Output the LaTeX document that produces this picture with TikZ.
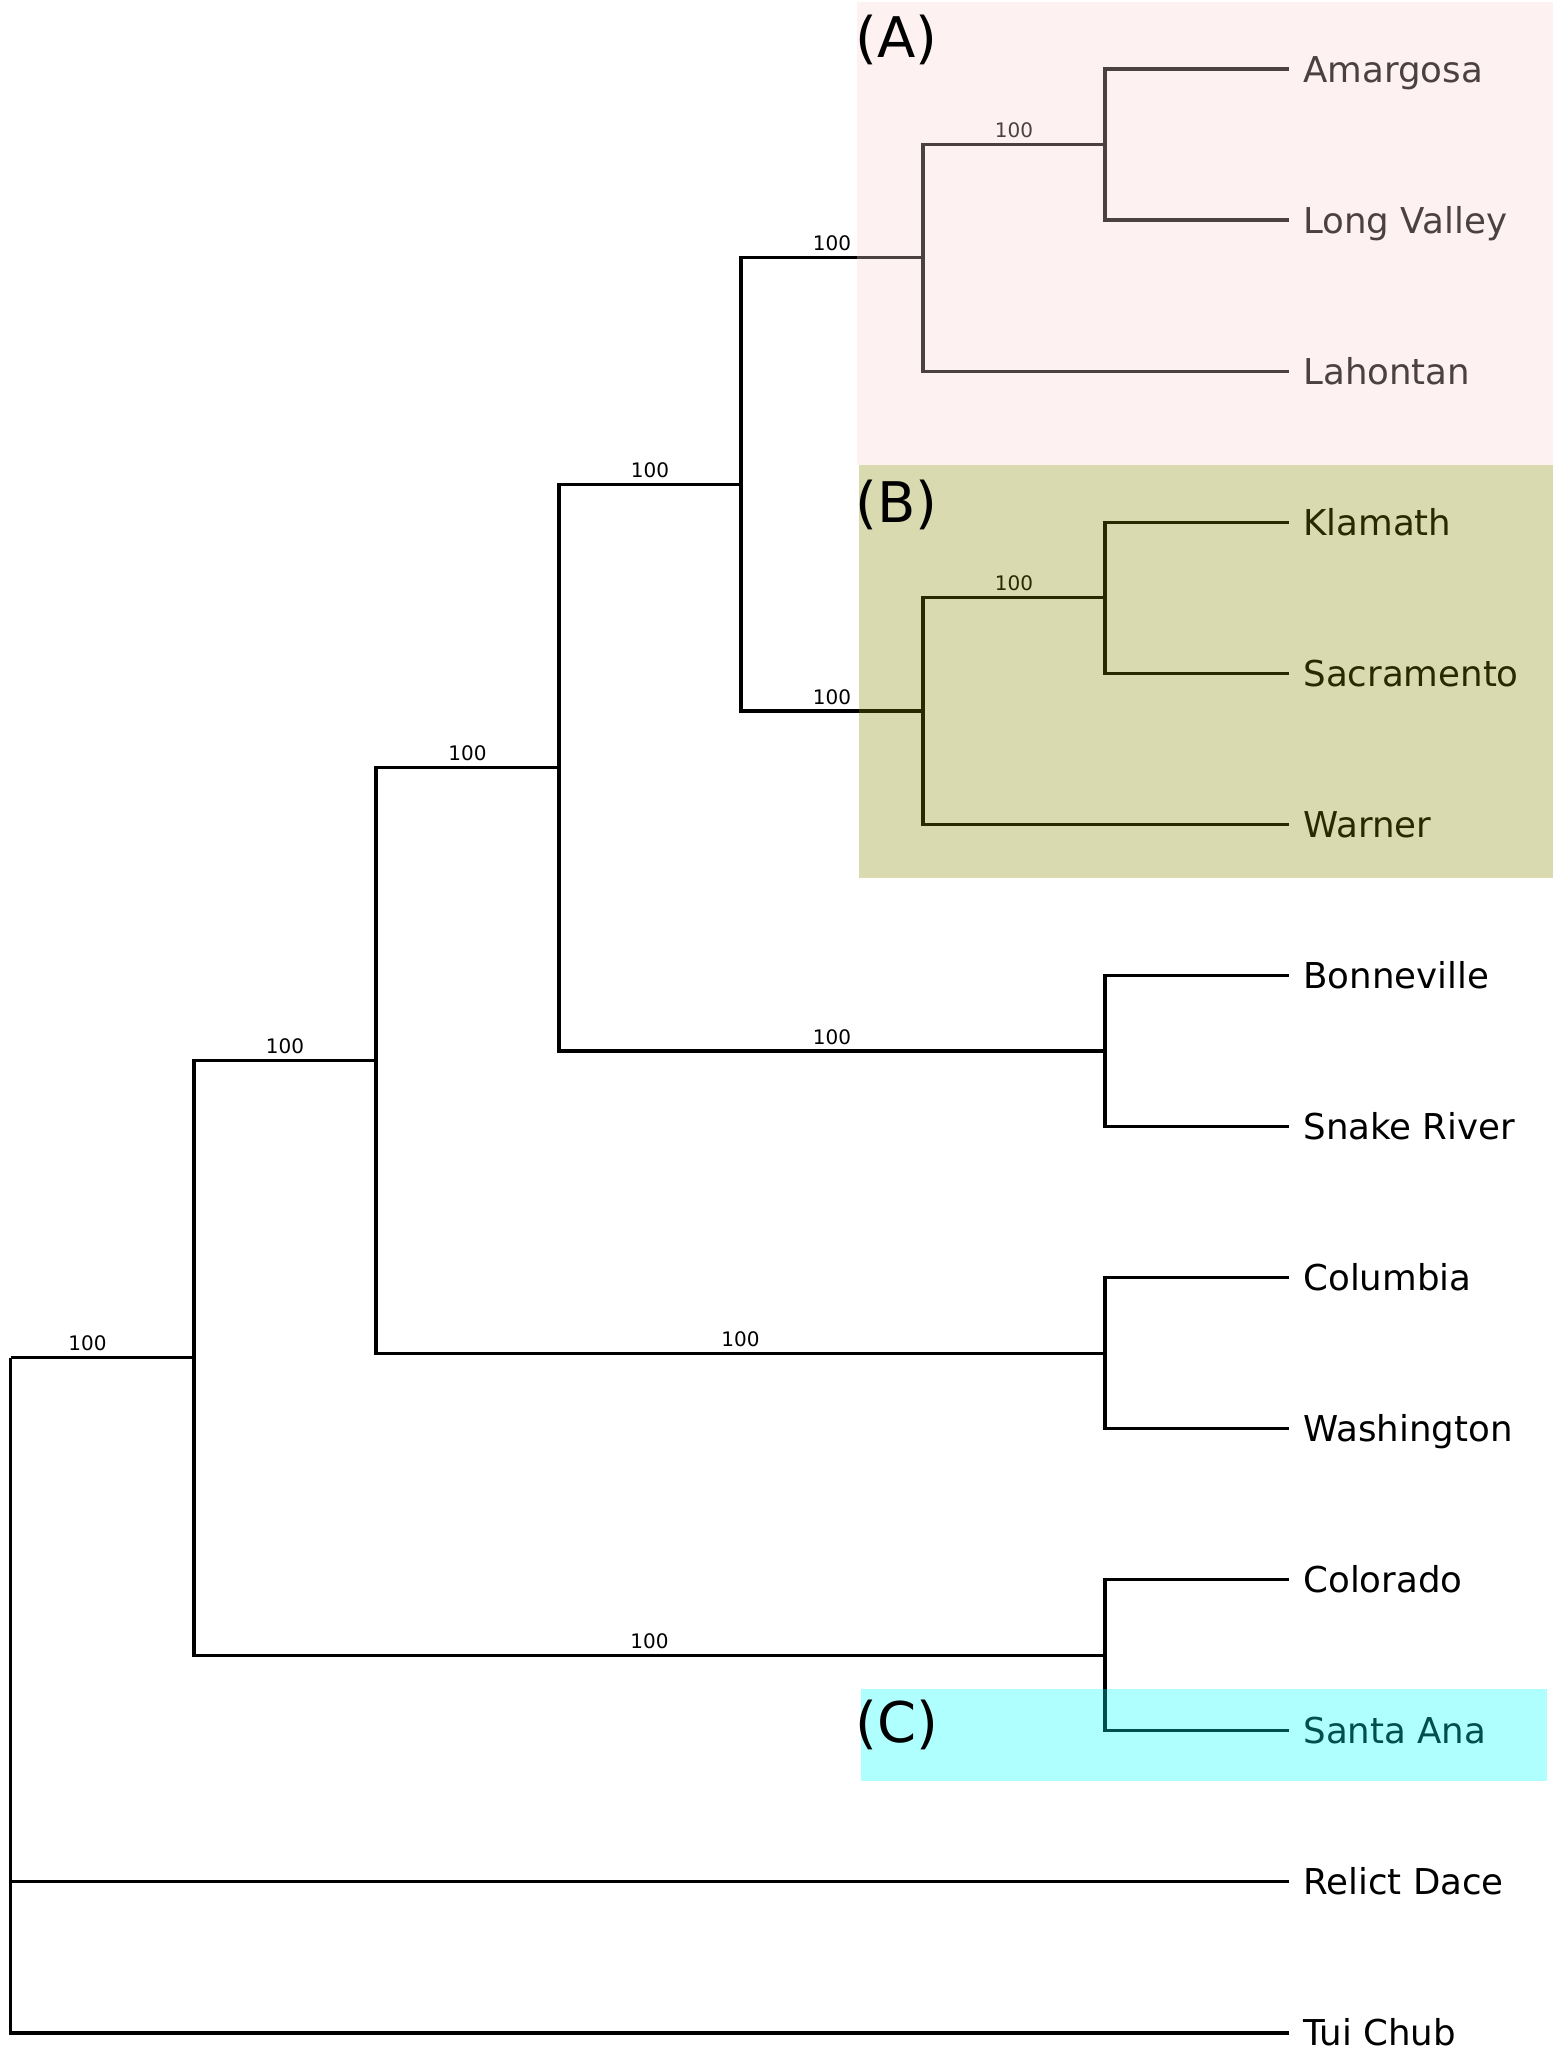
\documentclass[tikz,border=0pt]{standalone}
\usepackage{fontspec}
\setmainfont{DejaVu Sans}
\usepackage{xcolor}
\usepackage{tikz}
\usetikzlibrary{positioning,calc}

\definecolor{shadeA}{RGB}{247,210,210}
\definecolor{shadeB}{RGB}{134,134,0}
\definecolor{shadeC}{RGB}{0,255,255}

\tikzset{
  branch/.style={line width=1.6pt},
  boot/.style={pos=0.75, above, inner sep=2.5pt, font=\fontsize{10}{12}\selectfont},
  taxon/.style={anchor=base west, inner sep=0pt, xshift=7pt, yshift=-6.5pt, font=\fontsize{17.8}{20}\selectfont},
  cladetag/.style={anchor=base west, inner sep=0pt, yshift=-10.2pt, font=\fontsize{28}{30}\selectfont},
  shade/.style={opacity=0.31}
}

\begin{document}
\begin{tikzpicture}[x=0.5pt, y=-0.5pt]
        \useasboundingbox (0,0) rectangle (1555,2068);

        % taxa
        \foreach \name/\txt [count=\i from 0] in {amargosa/Amargosa, longvalley/Long Valley, lahontan/Lahontan,
            klamath/Klamath, sacramento/Sacramento, warner/Warner, bonneville/Bonneville, snake/Snake River,
            columbia/Columbia, washington/Washington, colorado/Colorado, santaana/Santa Ana,
            relict/Relict Dace, tuichub/Tui Chub} {
            \coordinate (\name) at (1289,{69+151.07*\i});
            \node[taxon] (\name-lbl) at (\name) {\txt};
        }

        % internal nodes
        \coordinate (amlv)   at (1105,144.5);
        \coordinate (cladeA) at (923,257.8);
        \coordinate (klsa)   at (1105,597.7);
        \coordinate (cladeB) at (923,711.0);
        \coordinate (ab)     at (741,484.4);
        \coordinate (bosn)   at (1105,1051.0);
        \coordinate (abbs)   at (559,767.7);
        \coordinate (cowa)   at (1105,1353.1);
        \coordinate (abbscw) at (376,1060.4);
        \coordinate (cosa)   at (1105,1655.2);
        \coordinate (ingroup) at (194,1357.8);
        \coordinate (root)   at (10.5,1357.8);

        % clade A
        \draw[branch] (amlv) |- (amargosa);
        \draw[branch] (amlv) |- (longvalley);
        \draw[branch] (cladeA) |- node[boot] {100} (amlv);
        \draw[branch] (cladeA) |- (lahontan);

        % clade B
        \draw[branch] (klsa) |- (klamath);
        \draw[branch] (klsa) |- (sacramento);
        \draw[branch] (cladeB) |- node[boot] {100} (klsa);
        \draw[branch] (cladeB) |- (warner);

        \draw[branch] (ab) |- node[boot] {100} (cladeA);
        \draw[branch] (ab) |- node[boot] {100} (cladeB);

        % remaining pairs
        \draw[branch] (bosn) |- (bonneville);
        \draw[branch] (bosn) |- (snake);
        \draw[branch] (cowa) |- (columbia);
        \draw[branch] (cowa) |- (washington);
        \draw[branch] (cosa) |- (colorado);
        \draw[branch] (cosa) |- (santaana);

        % backbone
        \draw[branch] (abbs) |- node[boot] {100} (ab);
        \draw[branch] (abbs) |- node[boot] {100} (bosn);
        \draw[branch] (abbscw) |- node[boot] {100} (abbs);
        \draw[branch] (abbscw) |- node[boot] {100} (cowa);
        \draw[branch] (ingroup) |- node[boot] {100} (abbscw);
        \draw[branch] (ingroup) |- node[boot] {100} (cosa);
        \draw[branch] (root) |- node[boot, pos=0.71] {100} (ingroup);
        \draw[branch] (root) |- (relict);
        \draw[branch] (root) |- (tuichub);

        % highlighted clades
        \fill[shadeA, shade] (857,2) rectangle (1553,465);
        \fill[shadeB, shade] (859,465) rectangle (1553,878);
        \fill[shadeC, shade] (861,1689) rectangle (1547,1781);
        \node[cladetag] (tagA) at (855,37) {(A)};
        \node[cladetag] (tagB) at (855,502) {(B)};
        \node[cladetag] (tagC) at (855,1722) {(C)};
    \end{tikzpicture}
\end{document}
